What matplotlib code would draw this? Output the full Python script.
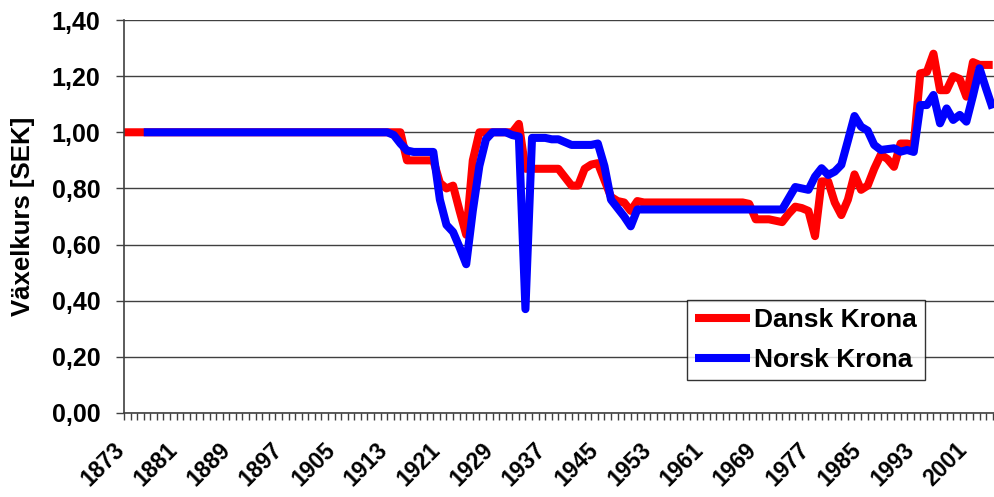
import numpy as np
import matplotlib
matplotlib.use('Agg')
import matplotlib.pyplot as plt
from matplotlib.ticker import FuncFormatter, FixedLocator
from matplotlib.transforms import ScaledTranslation

plt.rcParams['font.family'] = ['Liberation Sans', 'DejaVu Sans']
plt.rcParams['font.weight'] = 'bold'

years = list(range(1873, 2006))

# Dansk Krona, SEK per krone, 1873-2005
dansk = [
    1.00, 1.00, 1.00, 1.00, 1.00, 1.00, 1.00,
    1.00, 1.00, 1.00, 1.00, 1.00, 1.00, 1.00, 1.00, 1.00, 1.00,
    1.00, 1.00, 1.00, 1.00, 1.00, 1.00, 1.00, 1.00, 1.00, 1.00,
    1.00, 1.00, 1.00, 1.00, 1.00, 1.00, 1.00, 1.00, 1.00, 1.00,
    1.00, 1.00, 1.00, 1.00, 1.00, 1.00, 0.90, 0.90, 0.90, 0.90,
    0.90, 0.82, 0.80, 0.81, 0.72, 0.635, 0.90, 1.00, 1.00, 1.00,
    1.00, 1.00, 1.00, 1.03, 0.87, 0.87, 0.87, 0.87, 0.87, 0.87,
    0.84, 0.81, 0.81, 0.87, 0.885, 0.89, 0.83, 0.77, 0.755, 0.75,
    0.72, 0.755, 0.75, 0.75, 0.75, 0.75, 0.75, 0.75, 0.75, 0.75,
    0.75, 0.75, 0.75, 0.75, 0.75, 0.75, 0.75, 0.75, 0.745, 0.69,
    0.69, 0.69, 0.685, 0.68, 0.71, 0.735, 0.73, 0.72, 0.63, 0.825,
    0.825, 0.75, 0.705, 0.76, 0.85, 0.795, 0.81, 0.87, 0.92, 0.905,
    0.877, 0.96, 0.96, 0.955, 1.21, 1.215, 1.28, 1.15, 1.15, 1.20,
    1.19, 1.127, 1.25, 1.24, 1.24, 1.24,
]

# Norsk Krona, starts 1876
norsk = [
    np.nan, np.nan, np.nan, 1.00, 1.00, 1.00, 1.00,
    1.00, 1.00, 1.00, 1.00, 1.00, 1.00, 1.00, 1.00, 1.00, 1.00,
    1.00, 1.00, 1.00, 1.00, 1.00, 1.00, 1.00, 1.00, 1.00, 1.00,
    1.00, 1.00, 1.00, 1.00, 1.00, 1.00, 1.00, 1.00, 1.00, 1.00,
    1.00, 1.00, 1.00, 1.00, 0.99, 0.96, 0.935, 0.93, 0.93, 0.93,
    0.93, 0.76, 0.67, 0.645, 0.59, 0.53, 0.72, 0.88, 0.975, 1.00,
    1.00, 1.00, 0.99, 0.985, 0.37, 0.98, 0.98, 0.98, 0.975, 0.975,
    0.965, 0.955, 0.955, 0.955, 0.955, 0.96, 0.88, 0.76, 0.73, 0.70,
    0.665, 0.725, 0.725, 0.725, 0.725, 0.725, 0.725, 0.725, 0.725, 0.725,
    0.725, 0.725, 0.725, 0.725, 0.725, 0.725, 0.725, 0.725, 0.725, 0.725,
    0.725, 0.725, 0.725, 0.725, 0.765, 0.805, 0.80, 0.795, 0.842, 0.872,
    0.848, 0.86, 0.884, 0.97, 1.058, 1.02, 1.006, 0.955, 0.937, 0.94,
    0.943, 0.931, 0.937, 0.93, 1.097, 1.097, 1.133, 1.032, 1.085, 1.044,
    1.062, 1.038, 1.13, 1.228, 1.155, 1.085,
]

label_years = list(range(1873, 2002, 8))
y_ticks = [0.0, 0.2, 0.4, 0.6, 0.8, 1.0, 1.2, 1.4]

fig = plt.figure(figsize=(9.94, 4.97), dpi=100)
ax = fig.add_axes([124 / 994, 1 - 413 / 497, 870 / 994, 393 / 497])

ax.plot(years, dansk, color='#ff0000', lw=5.8, label='Dansk Krona',
        solid_capstyle='butt', solid_joinstyle='round')
ax.plot(years, norsk, color='#0000ff', lw=5.8, label='Norsk Krona',
        solid_capstyle='butt', solid_joinstyle='round')

ax.set_xlim(1873, 2005.2)
ax.set_ylim(0, 1.4)

ax.set_yticks(y_ticks)
ax.yaxis.set_major_formatter(FuncFormatter(lambda v, p: ('%.2f' % v).replace('.', ',')))
ax.grid(axis='y', color='#404040', lw=1.0)
ax.set_axisbelow(True)

ax.xaxis.set_major_locator(FixedLocator(label_years))
ax.set_xticklabels([str(y) for y in label_years])
ax.xaxis.set_minor_locator(FixedLocator([y for y in years if y not in label_years]))
ax.tick_params(axis='x', which='both', length=5, width=1, color='#404040', direction='out')
ax.tick_params(axis='x', which='major', pad=13, labelsize=16.5)
ax.tick_params(axis='y', length=6, width=1, color='#404040', pad=11, labelsize=18)

shift = ScaledTranslation(-11 / 100, 0, fig.dpi_scale_trans)
for lab in ax.get_xticklabels():
    lab.set_rotation(45)
    lab.set_ha('right')
    lab.set_va('top')
    lab.set_rotation_mode('anchor')
    lab.set_transform(lab.get_transform() + shift)

for s in ['top', 'right']:
    ax.spines[s].set_visible(False)
for s in ['left', 'bottom']:
    ax.spines[s].set_color('#404040')
    ax.spines[s].set_linewidth(1.2)

ax.set_ylabel('Växelkurs [SEK]', fontsize=18.5, fontweight='bold')
ax.yaxis.set_label_coords(-0.102, 0.5)

leg = fig.legend(loc='upper left', bbox_to_anchor=(687 / 994, 1 - 300 / 497),
                 fontsize=19, frameon=True, fancybox=False, edgecolor='black',
                 handlelength=2.1, handletextpad=0.15, borderpad=0.3,
                 labelspacing=0.6, borderaxespad=0)
leg.get_frame().set_linewidth(1.0)
for line in leg.get_lines():
    line.set_linewidth(5.8)

fig.savefig('out.png', dpi=100)
